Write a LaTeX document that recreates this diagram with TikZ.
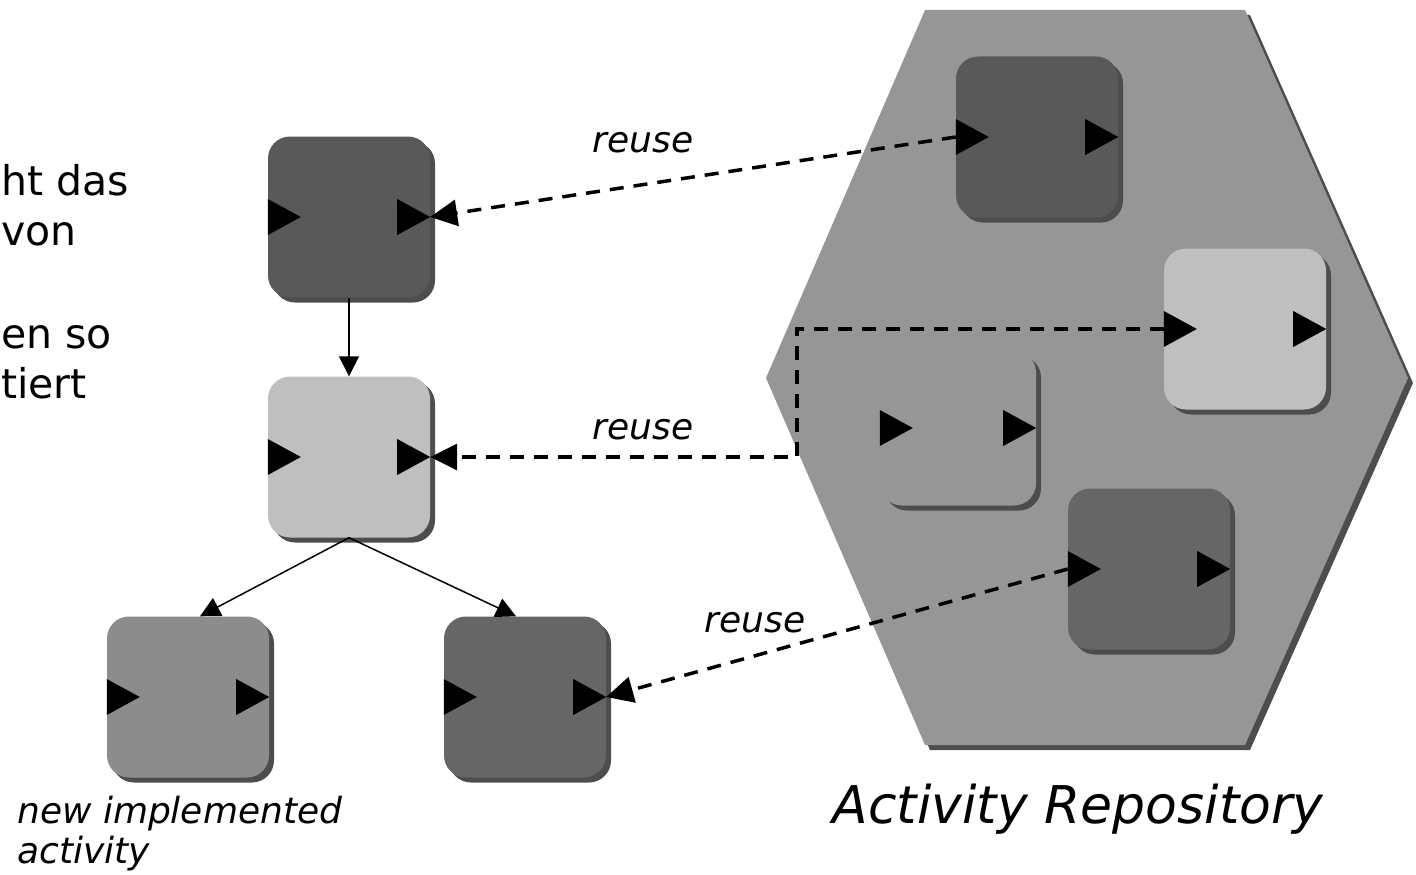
\documentclass[tikz,border=0pt]{standalone}
\usepackage{fontspec}
\setmainfont{DejaVu Sans}
\usetikzlibrary{arrows.meta,shadows}
\definecolor{gDark}{HTML}{595959}
\definecolor{gLight}{HTML}{BFBFBF}
\definecolor{gMid}{HTML}{8C8C8C}
\definecolor{gDim}{HTML}{666666}
\definecolor{gHex}{HTML}{969696}
\definecolor{gShadow}{HTML}{4D4D4D}
\begin{document}
\begin{tikzpicture}[x=1pt,y=-1pt,
  actbox/.style={rounded corners=22pt, minimum width=162pt, minimum height=161pt,
    inner sep=0pt, draw=none,
    drop shadow={shadow xshift=5pt, shadow yshift=-5pt, fill=gShadow, opacity=1}},
  treearrow/.style={line width=1.5pt, -{Triangle[length=20pt,width=20pt]}},
  reusearrow/.style={line width=3.5pt, dash pattern=on 14pt off 10pt,
    -{Triangle[length=27pt,width=26pt]}},
  lbl/.style={font=\fontsize{36}{43}\selectfont\itshape, inner sep=0pt},
  bigtext/.style={font=\fontsize{41}{48}\selectfont, inner sep=0pt, anchor=base west}
]
\useasboundingbox (0,0) rectangle (1416,875);

% repository hexagon with shadow
\begin{scope}[shift={(5,5)}]
  \fill[gShadow] (925,10) -- (1245,10) -- (1408,378) -- (1245,745) -- (925,745) -- (766,378) -- cycle;
\end{scope}
\fill[gHex] (925,10) -- (1245,10) -- (1408,378) -- (1245,745) -- (925,745) -- (766,378) -- cycle;

% activity boxes
\node[actbox, fill=gDark]  (A)  at (349,217) {};
\node[actbox, fill=gLight] (B)  at (349,457) {};
\node[actbox, fill=gMid]   (C)  at (188,697) {};
\node[actbox, fill=gDim]   (D)  at (525,697) {};
\node[actbox, fill=gDark]  (R1) at (1037,137) {};
\node[actbox, fill=gLight] (R2) at (1245,329) {};
\node[actbox, fill=gHex, minimum width=156pt, minimum height=155pt] (R3) at (958,428) {};
\node[actbox, fill=gDim]   (R4) at (1149,569) {};

% ports
\foreach \n in {A,B,C,D,R1,R2,R3,R4}{
  \fill[black] (\n.west) ++(0,-18) -- ++(33,18) -- ++(-33,18) -- cycle;
  \fill[black] (\n.east) ++(-33,-18) -- ++(33,18) -- ++(-33,18) -- cycle;
}

% tree connectors
\draw[treearrow] (A.south) -- (B.north);
\draw[treearrow] (B.south) -- ([xshift=12pt]C.north);
\draw[treearrow] (B.south) -- ([xshift=-9pt]D.north);

% reuse connectors
\coordinate (bendA) at (797,329);
\coordinate (bendB) at (797,457);
\draw[reusearrow] (R1.west) -- (A.east);
\draw[reusearrow] (R2.west) -- (bendA) -- (bendB) -- (B.east);
\draw[reusearrow] (R4.west) -- (D.east);

% labels
\node[lbl, anchor=base] (l1) at (643,152) {reuse};
\node[lbl, anchor=base] (l2) at (643,439) {reuse};
\node[lbl, anchor=base] (l3) at (755,632) {reuse};
\node[font=\fontsize{52}{60}\selectfont\itshape, inner sep=0pt, anchor=base] (repo) at (1078,823) {Activity Repository};
\node[lbl, anchor=base west] (n1) at (17,823) {new implemented};
\node[lbl, anchor=base west] (n2) at (17,863) {activity};

% text fragments on the left
\node[bigtext] (t1) at (1,195) {ht das};
\node[bigtext] (t2) at (1,245) {von};
\node[bigtext] (t3) at (1,348) {en so};
\node[bigtext] (t4) at (1,398) {tiert};
\end{tikzpicture}
\end{document}
